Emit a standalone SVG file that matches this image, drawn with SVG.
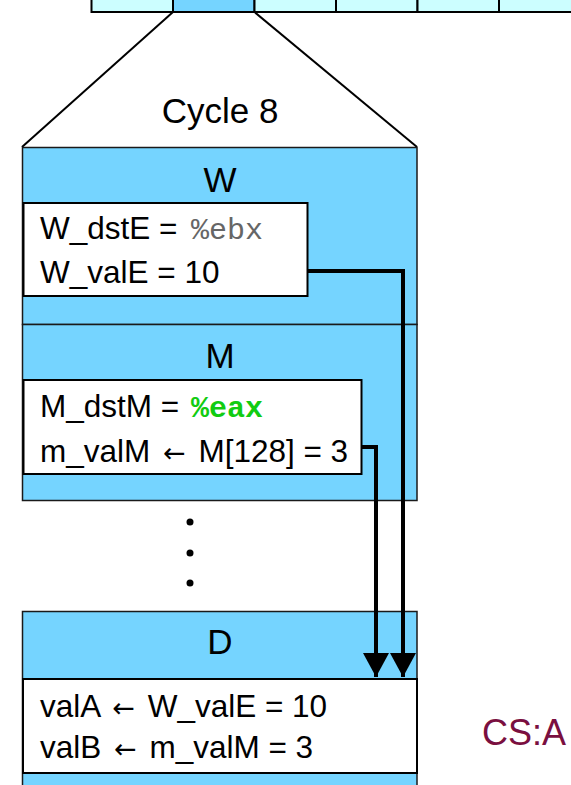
<svg xmlns="http://www.w3.org/2000/svg" width="571" height="785" viewBox="0 0 571 785">
<defs>
<style>
.cell{stroke:#000;stroke-width:2}
.light{fill:#ccfeff}
.blue{fill:#75d4ff}
.panel{fill:#75d4ff;stroke:#1a1a1a;stroke-width:1.5}
.box{fill:#fff;stroke:#000;stroke-width:2}
.t{font-family:"Liberation Sans",Arial,sans-serif;font-size:31.5px;fill:#000}
.title{font-family:"Liberation Sans",Arial,sans-serif;font-size:35px;fill:#000;text-anchor:middle}
.mono{font-family:"Liberation Mono","Courier New",monospace;font-size:30px}
.arr{font-family:"DejaVu Sans",sans-serif;font-size:27px}
.conn{fill:none;stroke:#000;stroke-width:4}
</style>
<marker id="ah" markerUnits="userSpaceOnUse" markerWidth="28" markerHeight="26" refX="24" refY="13" orient="auto">
<path d="M0,0 L24,13 L0,26 Z" fill="#000"/>
</marker>
</defs>
<g id="timeline">
<rect class="cell light" x="91.5" y="-10" width="81.5" height="22"/>
<rect class="cell blue" x="173" y="-10" width="81.5" height="22"/>
<rect class="cell light" x="254.5" y="-10" width="81.5" height="22"/>
<rect class="cell light" x="336" y="-10" width="81.5" height="22"/>
<rect class="cell light" x="417.5" y="-10" width="81.5" height="22"/>
<rect class="cell light" x="499" y="-10" width="81.5" height="22"/>
</g>
<g id="zoom">
<line x1="173" y1="12" x2="22" y2="147" stroke="#000" stroke-width="2"/>
<line x1="254.5" y1="12" x2="417" y2="147" stroke="#000" stroke-width="2"/>
<text class="title" x="220" y="123" font-size="37">Cycle 8</text>
</g>
<g id="W">
<rect class="panel" x="22.5" y="147.5" width="394.5" height="177"/>
<text class="title" x="220" y="192">W</text>
<rect class="box" x="23.5" y="203" width="284" height="93"/>
<text class="t" x="40" y="239">W_dstE = <tspan class="mono" x="191" fill="#666">%ebx</tspan></text>
<text class="t" x="40" y="283">W_valE = 10</text>
</g>
<g id="M">
<rect class="panel" x="22.5" y="324.5" width="394.5" height="176"/>
<text class="title" x="220" y="368">M</text>
<rect class="box" x="23.5" y="380" width="338" height="94"/>
<text class="t" x="40" y="417">M_dstM = <tspan class="mono" x="191" fill="#11cc11" font-weight="bold">%eax</tspan></text>
<text class="t" x="40" y="462">m_valM <tspan class="arr" dx="4">←</tspan><tspan dx="4"> M[128] = 3</tspan></text>
</g>
<g id="dots">
<circle cx="190" cy="522" r="3.5" fill="#000"/>
<circle cx="190" cy="553" r="3.5" fill="#000"/>
<circle cx="190" cy="583" r="3.5" fill="#000"/>
</g>
<g id="D">
<rect class="panel" x="22.5" y="611.5" width="394.5" height="180"/>
<text class="title" x="220" y="654">D</text>
<rect class="box" x="23" y="679" width="394" height="94"/>
<text class="t" x="40" y="717">valA <tspan class="arr" dx="4">←</tspan><tspan dx="4"> W_valE = 10</tspan></text>
<text class="t" x="40" y="758">valB <tspan class="arr" dx="4">←</tspan><tspan dx="4"> m_valM = 3</tspan></text>
</g>
<g id="connectors">
<path class="conn" d="M308,271 H403 V677" marker-end="url(#ah)"/>
<path class="conn" d="M362,447 H376 V677" marker-end="url(#ah)"/>
</g>
<text x="482" y="745" font-family="Liberation Sans,Arial,sans-serif" font-size="36" fill="#7a0f40">CS:A</text>
</svg>
